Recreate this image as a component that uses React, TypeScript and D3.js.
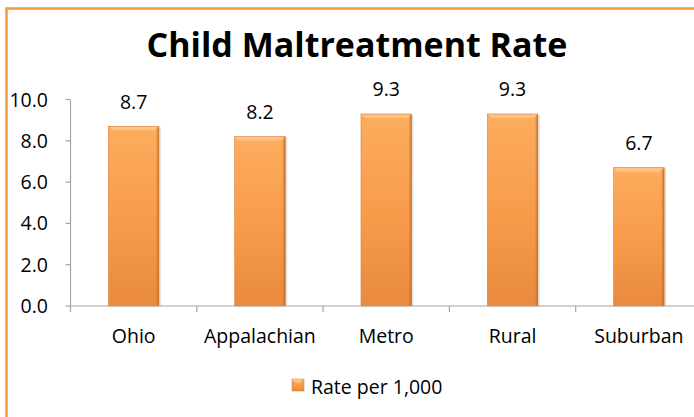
import React from "react";
import * as d3 from "d3";

const categories = ["Ohio", "Appalachian", "Metro", "Rural", "Suburban"];
const rates = [8.7, 8.2, 9.3, 9.3, 6.7];
const yTicks = [0, 2, 4, 6, 8, 10];
const title = "Child Maltreatment Rate";
const seriesName = "Rate per 1,000";

const W = 694;
const H = 417;
const FONT = "'Open Sans', Lato, sans-serif";
const FS = 19.5;

export default function App() {
  const x = d3
    .scaleBand<string>()
    .domain(categories)
    .range([70.5, 702])
    .paddingInner(0.6)
    .paddingOuter(0.3);
  const y = d3.scaleLinear().domain([0, 10]).range([306, 99.5]);
  const step = x.step();
  const x0 = 70.5;
  const axisColor = "#A6A6A6";

  return (
    <svg
      width={W}
      height={H}
      style={{ position: "absolute", left: 0, top: 0, background: "#fff" }}
      fontFamily={FONT}
    >
      <defs>
        <linearGradient id="barGrad" x1="0" y1="0" x2="0" y2="1">
          <stop offset="0%" stopColor="#FDAC5E" />
          <stop offset="50%" stopColor="#F89C4C" />
          <stop offset="100%" stopColor="#E98A3E" />
        </linearGradient>
        <linearGradient id="rightEdge" x1="0" y1="0" x2="1" y2="0">
          <stop offset="0%" stopColor="#C96F25" stopOpacity="0" />
          <stop offset="100%" stopColor="#B5621C" stopOpacity="0.9" />
        </linearGradient>
      </defs>

      <rect x={6.5} y={8.5} width={W + 20} height={H + 20} fill="#fff" stroke="#F29B3C" strokeWidth={2.5} />

      <text x={357} y={57} textAnchor="middle" fontSize={34} fontWeight={700} fill="#000">
        {title}
      </text>

      {/* y axis */}
      <line x1={70.5} x2={70.5} y1={y(10)} y2={y(0)} stroke={axisColor} strokeWidth={1.2} />
      {yTicks.map((t) => (
        <g key={t}>
          <line x1={65.5} x2={70.5} y1={y(t)} y2={y(t)} stroke={axisColor} strokeWidth={1.2} />
          <text x={48} y={y(t) + 7} textAnchor="end" fontSize={FS} fill="#000">
            {t.toFixed(1)}
          </text>
        </g>
      ))}

      {/* bars */}
      {categories.map((c, i) => {
        const bx = x(c)!;
        const bw = x.bandwidth();
        const top = y(rates[i]);
        const h = y(0) - top;
        return (
          <g key={c}>
            <rect x={bx + 2} y={top + 1} width={bw} height={h - 1} fill="#000" opacity={0.12} />
            <rect x={bx} y={top} width={bw} height={h} fill="url(#barGrad)" />
            <rect x={bx + bw - 3} y={top} width={3} height={h} fill="url(#rightEdge)" />
            <polygon
              points={`${bx},${top} ${bx + bw},${top} ${bx + bw - 4},${top + 4} ${bx + 4},${top + 4}`}
              fill="#FFC78E"
              opacity={0.8}
            />
            <rect x={bx} y={top} width={bw} height={h} fill="none" stroke="#D9823A" strokeWidth={0.6} />
            <text x={bx + bw / 2} y={top - 17.5} textAnchor="middle" fontSize={FS} fill="#000">
              {rates[i].toFixed(1)}
            </text>
            <text x={bx + bw / 2} y={343} textAnchor="middle" fontSize={FS} fill="#000">
              {c}
            </text>
          </g>
        );
      })}

      {/* x axis */}
      <line x1={70.5} x2={W} y1={y(0)} y2={y(0)} stroke={axisColor} strokeWidth={1.2} />
      {d3.range(categories.length + 1).map((i) => (
        <line
          key={i}
          x1={x0 + i * step}
          x2={x0 + i * step}
          y1={y(0)}
          y2={y(0) + 6}
          stroke={axisColor}
          strokeWidth={1.2}
        />
      ))}

      {/* legend */}
      <g>
        <rect x={292} y={379} width={12} height={12} fill="url(#barGrad)" stroke="#D9823A" strokeWidth={0.6} />
        <polygon points="292,379 304,379 300,383 296,383" fill="#FFC78E" opacity={0.8} />
        <text x={311} y={394} fontSize={FS} fill="#000">
          {seriesName}
        </text>
      </g>
    </svg>
  );
}
